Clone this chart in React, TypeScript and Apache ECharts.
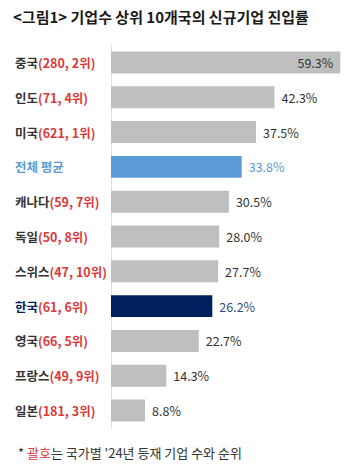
import React, { useEffect, useRef } from "react";
import * as echarts from "echarts";

const countries = ["중국", "인도", "미국", "전체 평균", "캐나다", "독일", "스위스", "한국", "영국", "프랑스", "일본"];
const counts = [280, 71, 621, null, 59, 50, 47, 61, 66, 49, 181];
const ranks = [2, 4, 1, null, 7, 8, 10, 6, 5, 9, 3];
const rates = [59.3, 42.3, 37.5, 33.8, 30.5, 28.0, 27.7, 26.2, 22.7, 14.3, 8.8];

const titleText = "<그림1> 기업수 상위 10개국의 신규기업 진입률";

const FONT = "'Noto Sans CJK KR', 'Noto Sans', sans-serif";
const GRAY = "#bfbfbf";
const BLUE = "#5b9bd5";
const NAVY = "#002060";
const RED = "#d93a3a";

export default function App() {
  const ref = useRef<HTMLDivElement>(null);
  useEffect(() => {
    if (!ref.current) return;
    const chart = echarts.init(ref.current, null, { renderer: "svg" });
    const data = rates.map((v, i) => {
      const name = countries[i];
      let color = GRAY;
      let labelColor = "#333";
      if (name === "전체 평균") { color = BLUE; labelColor = BLUE; }
      if (name === "한국") { color = NAVY; labelColor = "#2f4a8a"; }
      const inside = i === 0;
      return {
        value: v,
        itemStyle: { color },
        label: {
          show: true,
          position: inside ? "insideRight" : "right",
          distance: inside ? 7 : 7,
          color: labelColor,
          formatter: (p: any) => p.value.toFixed(1) + "%",
          fontSize: 12.5,
          fontFamily: FONT,
        },
      };
    });
    chart.setOption({
      animation: false,
      title: {
        text: titleText,
        left: 8,
        top: 4,
        textStyle: { fontSize: 15, fontWeight: "bold", color: "#1a1a1a", fontFamily: FONT },
      },
      graphic: [
        {
          type: "text",
          left: 18,
          top: 446,
          style: {
            text: "* {r|괄호}는 국가별 '24년 등재 기업 수와 순위",
            fontSize: 13,
            fill: "#333",
            fontFamily: FONT,
            rich: { r: { fill: RED, fontSize: 13, fontFamily: FONT } },
          } as any,
        },
      ],
      grid: { left: 111, right: 9, top: 45, bottom: 46, containLabel: false },
      xAxis: {
        type: "value",
        min: 0,
        max: 60,
        show: false,
      },
      yAxis: {
        type: "category",
        inverse: true,
        data: countries,
        axisLine: { show: true, lineStyle: { color: "#e0e0e0", width: 1 } },
        axisTick: { show: false },
        axisLabel: {
          align: "left",
          margin: 96,
          formatter: (val: string) => {
            const i = countries.indexOf(val);
            if (val === "전체 평균") return "{avg|" + val + "}";
            const paren = "{p|(" + counts[i] + ", " + ranks[i] + "위)}";
            if (val === "한국") return "{kr|" + val + "}" + paren;
            return "{n|" + val + "}" + paren;
          },
          rich: {
            n: { fontSize: 12.5, fontWeight: "bold", color: "#333", fontFamily: FONT },
            kr: { fontSize: 12.5, fontWeight: "bold", color: NAVY, fontFamily: FONT },
            avg: { fontSize: 12.5, fontWeight: "bold", color: BLUE, fontFamily: FONT },
            p: { fontSize: 12.5, fontWeight: "bold", color: RED, fontFamily: FONT },
          },
        },
      },
      series: [
        {
          type: "bar",
          data,
          barCategoryGap: "37%",
        },
      ],
    });
    return () => chart.dispose();
  }, []);
  return <div ref={ref} style={{ width: 352, height: 474, margin: -8, background: "#fff" }} />;
}
